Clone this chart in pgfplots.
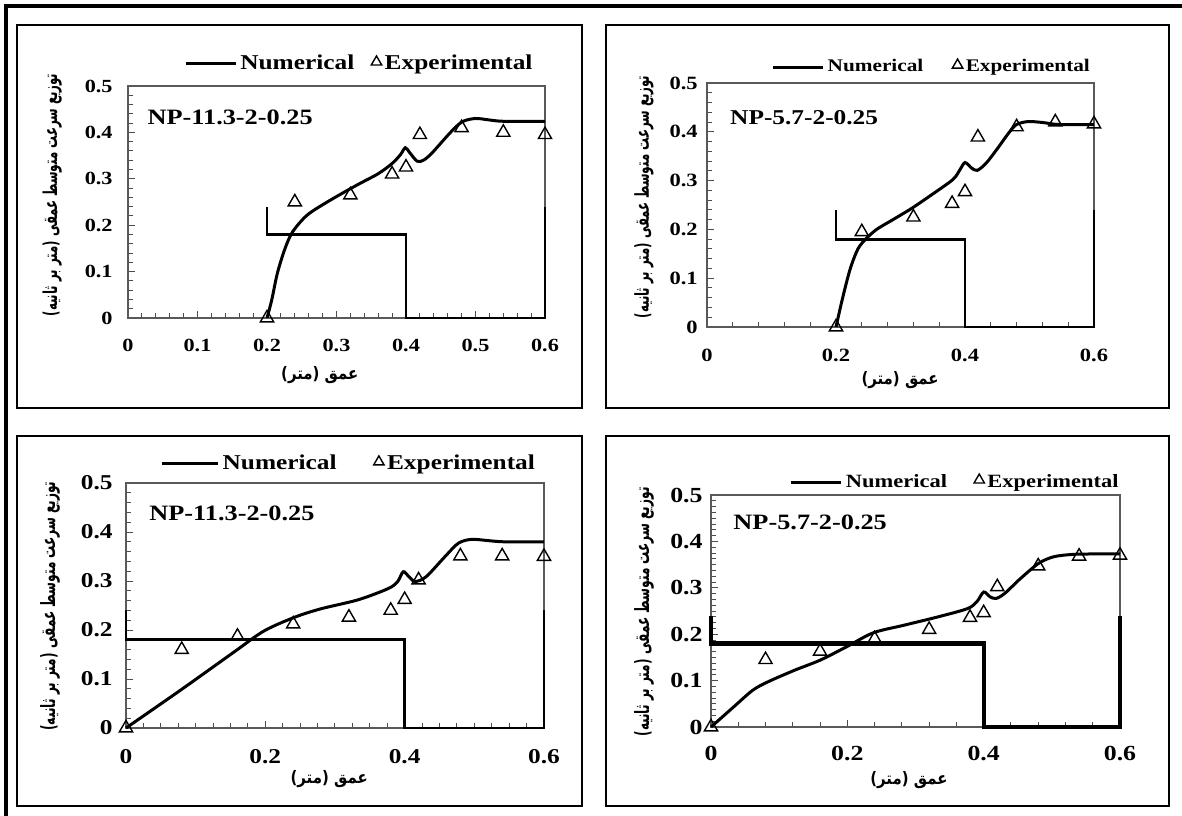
\documentclass[border=0pt]{standalone}
\usepackage{fontspec}
\setmainfont{Liberation Serif}[FakeStretch=1.2]
\newfontfamily\arabicfont[Script=Arabic]{DejaVu Sans}
\TeXXeTstate=1
\usepackage{graphicx}
\usepackage{pgfplots}
\pgfplotsset{compat=1.18}

\newcommand{\ylab}{\scalebox{0.8}[1.3]{\arabicfont\bfseries\beginR توزیع سرعت متوسط عمقی (متر بر ثانیه)\endR}}
\newcommand{\xlab}{\scalebox{1}[1.15]{\arabicfont\bfseries\mbox{(متر)}\ \mbox{عمق}}}

\pgfplotsset{
  panel/.style={
    scale only axis, xmin=0, xmax=0.6, ymin=0, ymax=0.5, clip=false,
    axis line style={gray!70!black, line width=0.6bp},
    tick align=inside, xtick pos=bottom, ytick pos=left,
    major tick length=3.5bp, minor tick length=2.5bp,
    tick style={gray!60!black, line width=0.5bp},
    ytick={0,0.1,0.2,0.3,0.4,0.5}, yticklabels={0,0.1,0.2,0.3,0.4,0.5},
    /pgf/number format/assume math mode=true,
    legend columns=2,
    legend cell align=left,
    xlabel=\xlab, ylabel=\ylab,
  },
  stepline/.style={black, line width=1.4bp, sharp plot, mark=none, forget plot},
  numline/.style={black, line width=1.5bp, smooth, tension=0.5, mark=none,
     legend image code/.code={\draw[black, line width=1.5bp] (0bp,0bp) -- (25bp,0bp);}},
  expmarks/.style={only marks, mark=triangle, mark size=3.8bp, black, mark options={line width=0.7bp, fill=none},
     legend image code/.code={\draw[black, line width=0.6bp] plot[mark=triangle, mark size=3bp] coordinates {(3bp,1bp)};}},
}

\begin{document}
\begin{tikzpicture}
\useasboundingbox (0bp,0bp) rectangle (591bp,-408bp);

% ---------- Panel 1 (top-left) ----------
\begin{axis}[panel,
  at={(64bp,-159bp)}, anchor=south west, width=208.5bp, height=116bp,
  xtick={0,0.1,0.2,0.3,0.4,0.5,0.6}, xticklabels={0,0.1,0.2,0.3,0.4,0.5,0.6},
  minor x tick num=4, minor y tick num=4,
  tick label style={font=\bfseries\fontsize{9.3}{9.3}\selectfont, inner sep=0pt},
  xticklabel style={anchor=center, yshift=-13.5bp},
  yticklabel style={anchor=east, xshift=-7.5bp},
  xlabel style={at={(axis description cs:0.46,-0.246)}, anchor=center, font=\fontsize{7.5}{7.5}\selectfont},
  ylabel style={at={(axis description cs:-0.182,0.53)}, anchor=center, font=\fontsize{7.4}{7.4}\selectfont},
  legend style={at={(0.134,1.095)}, anchor=west, draw=none, fill=none, inner sep=0pt,
    font=\bfseries\fontsize{10.6}{10.6}\selectfont,
    nodes={inner xsep=1.5bp, inner ysep=0pt},
    /tikz/every even column/.append style={column sep=7bp}},
]
\addplot[stepline] coordinates {(0.2,0.24) (0.2,0.18) (0.4,0.18) (0.4,0) (0.6,0) (0.6,0.24)};
\addplot[numline] coordinates {(0.2,0) (0.207,0.04) (0.215,0.097) (0.226,0.15) (0.237,0.186) (0.258,0.222) (0.29,0.253) (0.33,0.287) (0.36,0.311) (0.38,0.333) (0.392,0.352) (0.399,0.367) (0.405,0.357) (0.416,0.338) (0.425,0.340) (0.437,0.355) (0.464,0.40) (0.481,0.423) (0.5,0.430) (0.519,0.427) (0.54,0.424) (0.6,0.424)};
\addlegendentry{Numerical}
\addplot[expmarks] coordinates {(0.2,0) (0.24,0.25) (0.32,0.265) (0.38,0.31) (0.40,0.325) (0.42,0.395) (0.48,0.41) (0.54,0.40) (0.6,0.395)};
\addlegendentry{Experimental}
\node[anchor=west, font=\bfseries\fontsize{11}{11}\selectfont, inner sep=0pt] at (rel axis cs:0.046,0.866) {NP-11.3-2-0.25};
\end{axis}

% ---------- Panel 2 (top-right) ----------
\begin{axis}[panel,
  at={(353.5bp,-163.5bp)}, anchor=south west, width=193.5bp, height=122bp,
  xtick={0,0.2,0.4,0.6}, xticklabels={0,0.2,0.4,0.6},
  minor x tick num=4, minor y tick num=4,
  tick label style={font=\bfseries\fontsize{9.4}{9.4}\selectfont, inner sep=0pt},
  xticklabel style={anchor=center, yshift=-14bp},
  yticklabel style={anchor=east, xshift=-4.5bp},
  xlabel style={at={(axis description cs:0.499,-0.217)}, anchor=center, font=\fontsize{7.5}{7.5}\selectfont},
  ylabel style={at={(axis description cs:-0.163,0.533)}, anchor=center, font=\fontsize{7.4}{7.4}\selectfont},
  legend style={at={(0.166,1.066)}, anchor=west, draw=none, fill=none, inner sep=0pt,
    font=\bfseries\fontsize{8.9}{8.9}\selectfont,
    nodes={inner xsep=1.5bp, inner ysep=0pt},
    /tikz/every even column/.append style={column sep=13bp}},
]
\addplot[stepline] coordinates {(0.2,0.24) (0.2,0.18) (0.4,0.18) (0.4,0) (0.6,0) (0.6,0.24)};
\addplot[numline] coordinates {(0.2,0) (0.21,0.058) (0.222,0.119) (0.234,0.16) (0.246,0.18) (0.263,0.2) (0.287,0.219) (0.316,0.242) (0.345,0.268) (0.381,0.302) (0.392,0.322) (0.40,0.337) (0.41,0.326) (0.419,0.321) (0.433,0.336) (0.451,0.367) (0.468,0.398) (0.48,0.415) (0.498,0.421) (0.521,0.419) (0.545,0.415) (0.6,0.415)};
\addlegendentry{Numerical}
\addplot[expmarks] coordinates {(0.2,0) (0.24,0.195) (0.32,0.225) (0.38,0.253) (0.40,0.277) (0.42,0.389) (0.48,0.41) (0.54,0.42) (0.6,0.416)};
\addlegendentry{Experimental}
\node[anchor=west, font=\bfseries\fontsize{10.6}{10.6}\selectfont, inner sep=0pt] at (rel axis cs:0.059,0.857) {NP-5.7-2-0.25};
\end{axis}

% ---------- Panel 3 (bottom-left) ----------
\begin{axis}[panel,
  at={(63bp,-364bp)}, anchor=south west, width=209bp, height=122.5bp,
  xtick={0,0.2,0.4,0.6}, xticklabels={0,0.2,0.4,0.6},
  minor x tick num=7, minor y tick num=4,
  tick label style={font=\bfseries\fontsize{10.6}{10.6}\selectfont, inner sep=0pt},
  xticklabel style={anchor=center, yshift=-14.5bp},
  yticklabel style={anchor=east, xshift=-6.5bp},
  xlabel style={at={(axis description cs:0.486,-0.208)}, anchor=center, font=\fontsize{7.5}{7.5}\selectfont},
  ylabel style={at={(axis description cs:-0.182,0.498)}, anchor=center, font=\fontsize{7.6}{7.6}\selectfont},
  legend style={at={(0.082,1.078)}, anchor=west, draw=none, fill=none, inner sep=0pt,
    font=\bfseries\fontsize{10.6}{10.6}\selectfont,
    nodes={inner xsep=1.5bp, inner ysep=0pt},
    /tikz/every even column/.append style={column sep=17bp}},
]
\addplot[stepline] coordinates {(0,0.24) (0,0.18) (0.4,0.18) (0.4,0) (0.6,0) (0.6,0.24)};
\addplot[numline, legend image code/.code={\draw[black, line width=1.5bp] (0bp,0bp) -- (28bp,0bp);}] coordinates {(0,0) (0.079,0.078) (0.155,0.155) (0.198,0.198) (0.242,0.226) (0.279,0.243) (0.334,0.262) (0.377,0.285) (0.39,0.299) (0.398,0.319) (0.406,0.309) (0.415,0.299) (0.431,0.309) (0.458,0.35) (0.477,0.377) (0.496,0.385) (0.523,0.382) (0.544,0.38) (0.6,0.38)};
\addlegendentry{Numerical}
\addplot[expmarks] coordinates {(0,0) (0.08,0.16) (0.16,0.187) (0.24,0.212) (0.32,0.226) (0.38,0.24) (0.40,0.262) (0.42,0.302) (0.48,0.351) (0.54,0.351) (0.6,0.35)};
\addlegendentry{Experimental}
\node[anchor=west, font=\bfseries\fontsize{11}{11}\selectfont, inner sep=0pt] at (rel axis cs:0.055,0.878) {NP-11.3-2-0.25};
\end{axis}

% ---------- Panel 4 (bottom-right) ----------
\begin{axis}[panel,
  at={(355.5bp,-363.5bp)}, anchor=south west, width=204.5bp, height=116bp,
  xtick={0,0.2,0.4,0.6}, xticklabels={0,0.2,0.4,0.6},
  minor x tick num=4, minor y tick num=7,
  tick label style={font=\bfseries\fontsize{10.8}{10.8}\selectfont, inner sep=0pt},
  xticklabel style={anchor=center, yshift=-13bp},
  yticklabel style={anchor=east, xshift=-4bp},
  xlabel style={at={(axis description cs:0.484,-0.228)}, anchor=center, font=\fontsize{7.5}{7.5}\selectfont},
  ylabel style={at={(axis description cs:-0.164,0.496)}, anchor=center, font=\fontsize{7.6}{7.6}\selectfont},
  legend style={at={(0.192,1.056)}, anchor=west, draw=none, fill=none, inner sep=0pt,
    font=\bfseries\fontsize{9.4}{9.4}\selectfont,
    nodes={inner xsep=1.5bp, inner ysep=0pt},
    /tikz/every even column/.append style={column sep=12bp}},
]
\addplot[stepline, line width=2.1bp] coordinates {(0,0.24) (0,0.18) (0.4,0.18) (0.4,0) (0.6,0) (0.6,0.24)};
\addplot[numline] coordinates {(0,0) (0.033,0.043) (0.061,0.079) (0.083,0.097) (0.122,0.122) (0.16,0.144) (0.199,0.173) (0.238,0.203) (0.282,0.219) (0.332,0.237) (0.376,0.255) (0.39,0.27) (0.40,0.291) (0.409,0.281) (0.418,0.277) (0.431,0.288) (0.454,0.32) (0.481,0.353) (0.503,0.367) (0.531,0.372) (0.564,0.373) (0.6,0.373)};
\addlegendentry{Numerical}
\addplot[expmarks] coordinates {(0,0) (0.08,0.145) (0.16,0.163) (0.24,0.19) (0.32,0.21) (0.38,0.236) (0.40,0.246) (0.42,0.302) (0.48,0.347) (0.54,0.368) (0.6,0.37)};
\addlegendentry{Experimental}
\node[anchor=west, font=\bfseries\fontsize{11}{11}\selectfont, inner sep=0pt] at (rel axis cs:0.054,0.884) {NP-5.7-2-0.25};
\end{axis}

% ---------- frames ----------
\draw[black, line width=1.1bp] (8.5bp,-12.5bp) rectangle (291bp,-204bp);
\draw[black, line width=1.1bp] (303bp,-12.5bp) rectangle (584.5bp,-204bp);
\draw[black, line width=1.1bp] (8.5bp,-218bp) rectangle (291bp,-403bp);
\draw[black, line width=1.1bp] (303bp,-218bp) rectangle (584.5bp,-403bp);
\draw[black, line width=1.6bp] (3bp,-408bp) -- (3bp,-3bp) -- (591bp,-3bp);
\end{tikzpicture}
\end{document}
